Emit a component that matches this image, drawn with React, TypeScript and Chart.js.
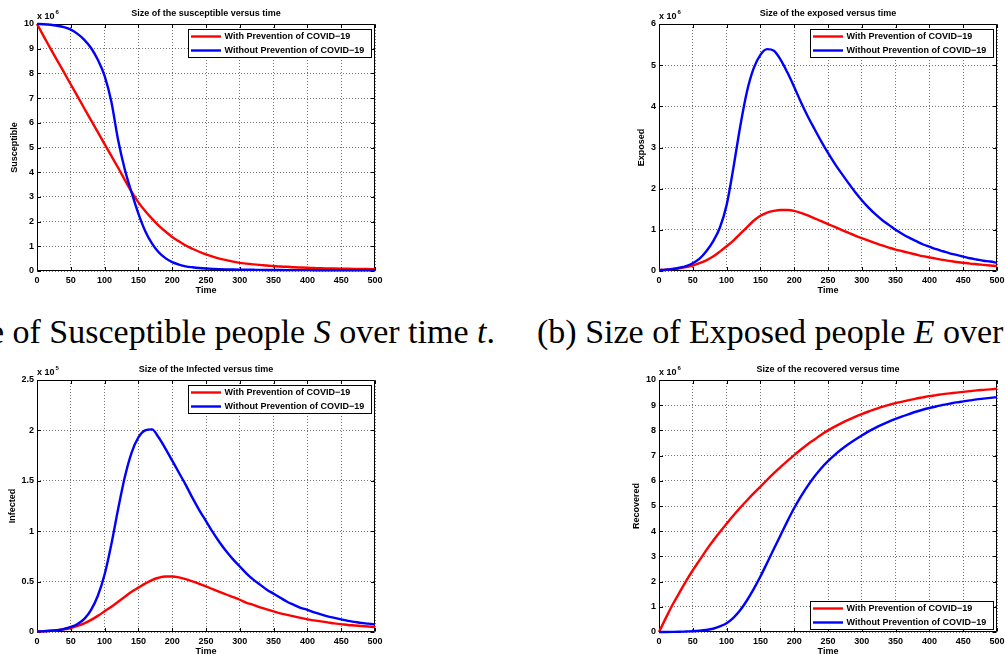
import React, { useEffect, useRef } from 'react';
import { Chart, registerables } from 'chart.js';

Chart.register(...registerables);

const FONT = "'Liberation Sans', Arial, Helvetica, sans-serif";
const SERIF = "'Liberation Serif', 'Times New Roman', serif";

// ---- data (time in days, values in units of the axis multiplier) ----
const TIME = [0, 10, 20, 30, 40, 50, 60, 70, 80, 90, 100, 110, 120, 130, 140, 150, 160, 170, 180, 190, 200,
  210, 220, 230, 240, 250, 260, 270, 280, 290, 300, 310, 320, 330, 340, 350, 360, 370, 380, 390, 400,
  410, 420, 430, 440, 450, 460, 470, 480, 490, 500];

const SERIES_LABELS = ['With Prevention of COVID\u221219', 'Without Prevention of COVID\u221219'];
const SERIES_COLORS = ['#ff0000', '#0000ff'];

// Susceptible (x 10^6)
const S_WITH = [10, 9.5, 9.0, 8.52, 8.04, 7.55, 7.07, 6.58, 6.1, 5.62, 5.14, 4.66, 4.18, 3.68, 3.2, 2.78, 2.43, 2.12, 1.84, 1.6,
  1.38, 1.2, 1.03, 0.9, 0.78, 0.67, 0.58, 0.5, 0.44, 0.38, 0.33, 0.3, 0.27, 0.25, 0.22, 0.2, 0.18, 0.17, 0.15, 0.14,
  0.13, 0.12, 0.11, 0.105, 0.1, 0.095, 0.09, 0.085, 0.08, 0.078, 0.075];
const S_WITHOUT = [10, 9.99, 9.97, 9.93, 9.87, 9.77, 9.6, 9.36, 9.03, 8.55, 7.9, 6.85, 5.3, 4.1, 3.17, 2.32, 1.62, 1.12, 0.76, 0.52,
  0.36, 0.26, 0.19, 0.15, 0.12, 0.1, 0.085, 0.075, 0.067, 0.06, 0.055, 0.051, 0.048, 0.045, 0.043, 0.041, 0.039, 0.037, 0.036, 0.035,
  0.034, 0.033, 0.032, 0.031, 0.03, 0.03, 0.029, 0.029, 0.028, 0.028, 0.027];

// Exposed (x 10^6)
const E_WITH = [0.02, 0.03, 0.045, 0.065, 0.095, 0.13, 0.19, 0.26, 0.35, 0.47, 0.6, 0.74, 0.9, 1.06, 1.22, 1.34, 1.42, 1.46, 1.48, 1.48,
  1.46, 1.41, 1.35, 1.28, 1.21, 1.14, 1.07, 1.0, 0.93, 0.86, 0.8, 0.74, 0.68, 0.62, 0.57, 0.52, 0.48, 0.44, 0.4, 0.36,
  0.33, 0.3, 0.27, 0.245, 0.22, 0.2, 0.18, 0.165, 0.15, 0.135, 0.12];
const E_WITHOUT = [0.02, 0.03, 0.05, 0.08, 0.12, 0.19, 0.3, 0.48, 0.72, 1.05, 1.6, 2.5, 3.5, 4.35, 4.92, 5.25, 5.39, 5.35, 5.13, 4.82,
  4.47, 4.1, 3.76, 3.45, 3.15, 2.87, 2.61, 2.37, 2.14, 1.92, 1.72, 1.54, 1.38, 1.24, 1.12, 1.0, 0.9, 0.81, 0.73, 0.65,
  0.59, 0.53, 0.48, 0.43, 0.39, 0.35, 0.31, 0.28, 0.25, 0.23, 0.2];

// Infected (x 10^5)
const I_WITH = [0.005, 0.008, 0.012, 0.018, 0.027, 0.04, 0.06, 0.085, 0.12, 0.16, 0.205, 0.25, 0.3, 0.35, 0.4, 0.44, 0.48, 0.515, 0.538, 0.55,
  0.55, 0.542, 0.525, 0.503, 0.478, 0.452, 0.425, 0.398, 0.372, 0.346, 0.32, 0.29, 0.27, 0.245, 0.225, 0.205, 0.185, 0.17, 0.155, 0.14,
  0.125, 0.115, 0.105, 0.095, 0.085, 0.078, 0.07, 0.065, 0.06, 0.055, 0.05];
const I_WITHOUT = [0.005, 0.008, 0.012, 0.018, 0.03, 0.05, 0.08, 0.13, 0.22, 0.36, 0.57, 0.87, 1.22, 1.54, 1.78, 1.93, 2.0, 2.01, 1.93, 1.82,
  1.7, 1.58, 1.46, 1.33, 1.21, 1.1, 0.99, 0.89, 0.8, 0.72, 0.65, 0.58, 0.52, 0.47, 0.42, 0.38, 0.34, 0.3, 0.27, 0.24,
  0.22, 0.195, 0.175, 0.155, 0.14, 0.125, 0.11, 0.1, 0.09, 0.083, 0.075];

// Recovered (x 10^6)
const R_WITH = [0, 0.55, 1.08, 1.55, 2.02, 2.45, 2.85, 3.25, 3.62, 3.97, 4.3, 4.62, 4.93, 5.22, 5.5, 5.77, 6.04, 6.3, 6.55, 6.79,
  7.02, 7.24, 7.45, 7.64, 7.83, 8.0, 8.15, 8.29, 8.42, 8.54, 8.65, 8.75, 8.84, 8.93, 9.01, 9.08, 9.14, 9.2, 9.26, 9.31,
  9.36, 9.4, 9.44, 9.47, 9.5, 9.53, 9.56, 9.59, 9.61, 9.63, 9.65];
const R_WITHOUT = [0, 0.002, 0.005, 0.01, 0.02, 0.03, 0.05, 0.08, 0.13, 0.22, 0.35, 0.56, 0.86, 1.25, 1.7, 2.2, 2.75, 3.3, 3.85, 4.4,
  4.92, 5.38, 5.8, 6.17, 6.5, 6.78, 7.03, 7.25, 7.45, 7.63, 7.8, 7.96, 8.1, 8.23, 8.35, 8.46, 8.56, 8.65, 8.74, 8.82,
  8.89, 8.95, 9.01, 9.06, 9.11, 9.15, 9.19, 9.23, 9.26, 9.29, 9.32];

// ---- panel layout ----
type PanelCfg = {
  id: string;
  cx: number; cy: number;
  plot: { l: number; t: number; r: number; b: number };
  yMax: number; yStep: number;
  exponent: string;
  title: string;
  yLabel: string;
  yLabelX: number;
  legendAt: 'top' | 'bottom';
  series: number[][];
};

const PANELS: PanelCfg[] = [
  { id: 'S', cx: 0, cy: 0, plot: { l: 37, t: 24, r: 375, b: 271 }, yMax: 10, yStep: 1, exponent: '6',
    title: 'Size of the susceptible versus time', yLabel: 'Susceptible', yLabelX: 15, legendAt: 'top', series: [S_WITH, S_WITHOUT] },
  { id: 'E', cx: 620, cy: 0, plot: { l: 659, t: 24, r: 997, b: 271 }, yMax: 6, yStep: 1, exponent: '6',
    title: 'Size of the exposed versus time', yLabel: 'Exposed', yLabelX: 641.7, legendAt: 'top', series: [E_WITH, E_WITHOUT] },
  { id: 'I', cx: 0, cy: 355, plot: { l: 37, t: 380, r: 375, b: 632 }, yMax: 2.5, yStep: 0.5, exponent: '5',
    title: 'Size of the Infected versus time', yLabel: 'Infected', yLabelX: 12.7, legendAt: 'top', series: [I_WITH, I_WITHOUT] },
  { id: 'R', cx: 620, cy: 355, plot: { l: 659, t: 380, r: 997, b: 632 }, yMax: 10, yStep: 1, exponent: '6',
    title: 'Size of the recovered versus time', yLabel: 'Recovered', yLabelX: 636.7, legendAt: 'bottom', series: [R_WITH, R_WITHOUT] },
];

const X_AXIS_H = 29;

const matlabPlugin = {
  id: 'matlabAxes',
  beforeDatasetsDraw(chart: any) {
    const { ctx, chartArea: a, scales } = chart;
    const L = Math.round(a.left) + 0.5;
    const R = Math.round(a.right) - 0.5;
    const T = Math.round(a.top) + 0.5;
    const B = Math.round(a.bottom) - 0.5;
    ctx.save();
    ctx.setLineDash([]);
    ctx.strokeStyle = '#000';
    ctx.lineWidth = 1;
    ctx.beginPath();
    ctx.rect(L, T, R - L, B - T);
    const tl = 3.5;
    scales.x.ticks.forEach((t: any) => {
      const px = Math.round(scales.x.getPixelForValue(t.value)) + 0.5;
      ctx.moveTo(px, B); ctx.lineTo(px, B - tl);
      ctx.moveTo(px, T); ctx.lineTo(px, T + tl);
    });
    scales.y.ticks.forEach((t: any) => {
      const py = Math.round(scales.y.getPixelForValue(t.value)) + 0.5;
      ctx.moveTo(L, py); ctx.lineTo(L + tl, py);
      ctx.moveTo(R, py); ctx.lineTo(R - tl, py);
    });
    ctx.stroke();
    ctx.restore();
  },
  afterDraw(chart: any, _args: any, opts: any) {
    const { ctx, chartArea: a } = chart;
    ctx.save();
    ctx.fillStyle = '#000';
    // title
    ctx.font = `bold 9px ${FONT}`;
    ctx.textAlign = 'center';
    ctx.textBaseline = 'middle';
    ctx.fillText(opts.title, (a.left + a.right) / 2, a.top - 10.5);
    // exponent
    ctx.textAlign = 'left';
    ctx.textBaseline = 'alphabetic';
    ctx.fillText('x 10', a.left, a.top - 4.7);
    const w = ctx.measureText('x 10').width;
    ctx.font = `bold 6px ${FONT}`;
    ctx.fillText(opts.exponent, a.left + w + 1, a.top - 10);
    // legend
    ctx.font = `bold 9px ${FONT}`;
    const labels: string[] = chart.data.datasets.map((d: any) => d.label);
    const tw = Math.max(...labels.map((l) => ctx.measureText(l).width));
    const bw = Math.round(36 + tw + 7);
    const bh = 28;
    const bx = Math.round(a.right - 4.5 - bw) + 0.5;
    const by = opts.legendAt === 'bottom' ? Math.round(a.bottom - 3 - bh) + 0.5 : Math.round(a.top + 4.5) + 0.5;
    ctx.fillStyle = '#fff';
    ctx.fillRect(bx, by, bw, bh);
    ctx.strokeStyle = '#000';
    ctx.lineWidth = 1;
    ctx.strokeRect(bx, by, bw, bh);
    chart.data.datasets.forEach((d: any, i: number) => {
      const y = by + 7 + i * 14;
      ctx.strokeStyle = d.borderColor;
      ctx.lineWidth = 2.4;
      ctx.beginPath();
      ctx.moveTo(bx + 2.5, y);
      ctx.lineTo(bx + 32.5, y);
      ctx.stroke();
      ctx.fillStyle = '#000';
      ctx.textBaseline = 'middle';
      ctx.fillText(d.label, bx + 36, y + 0.5);
    });
    ctx.restore();
  },
};

function Panel({ cfg }: { cfg: PanelCfg }) {
  const ref = useRef<HTMLCanvasElement | null>(null);
  const width = cfg.plot.r + 12 - cfg.cx;
  const height = cfg.plot.b + X_AXIS_H - cfg.cy;
  useEffect(() => {
    if (!ref.current) return;
    const yAxisW = cfg.plot.l - cfg.cx;
    const tickFont = { family: FONT, size: 9, weight: 'bold' as const };
    const chart = new Chart(ref.current, {
      type: 'line',
      data: {
        datasets: cfg.series.map((vals, i) => ({
          label: SERIES_LABELS[i],
          data: TIME.map((t, k) => ({ x: t, y: vals[k] })),
          borderColor: SERIES_COLORS[i],
          backgroundColor: SERIES_COLORS[i],
          borderWidth: 2.4,
          pointRadius: 0,
          cubicInterpolationMode: 'monotone' as const,
          clip: false as any,
          order: i === 1 ? 0 : 1,
        })),
      },
      options: {
        responsive: false,
        animation: false,
        devicePixelRatio: 1,
        layout: {
          padding: {
            left: 0,
            bottom: 0,
            top: cfg.plot.t - cfg.cy,
            right: cfg.cx + width - cfg.plot.r,
          },
        },
        plugins: {
          legend: { display: false },
          tooltip: { enabled: false },
          matlabAxes: { title: cfg.title, exponent: cfg.exponent, legendAt: cfg.legendAt },
        } as any,
        scales: {
          x: {
            type: 'linear',
            min: 0,
            max: 500,
            afterFit: (s: any) => { s.height = X_AXIS_H; },
            ticks: { stepSize: 50, color: '#000', font: tickFont, padding: 4, maxRotation: 0, autoSkip: false },
            grid: { color: 'rgba(0,0,0,0.55)', lineWidth: 1, drawTicks: false },
            border: { display: false, dash: [1, 2] },
            title: {
              display: true, text: 'Time', color: '#000',
              font: { family: FONT, size: 9, weight: 'bold', lineHeight: 1.2 },
              padding: { top: 0, bottom: 3.9 },
            },
          },
          y: {
            type: 'linear',
            min: 0,
            max: cfg.yMax,
            afterFit: (s: any) => { s.width = yAxisW; },
            ticks: {
              stepSize: cfg.yStep, color: '#000', font: tickFont, padding: 3,
              callback: (v: any) => String(v),
            },
            grid: { color: 'rgba(0,0,0,0.55)', lineWidth: 1, drawTicks: false },
            border: { display: false, dash: [1, 2] },
            title: {
              display: true, text: cfg.yLabel, color: '#000',
              font: { family: FONT, size: 9, weight: 'bold', lineHeight: 1.2 },
              padding: { top: cfg.yLabelX - cfg.cx - 5.4, bottom: 0 },
            },
          },
        },
      },
      plugins: [matlabPlugin as any],
    });
    return () => chart.destroy();
  }, [cfg]);
  return (
    <canvas
      ref={ref}
      width={width}
      height={height}
      style={{ position: 'absolute', left: cfg.cx, top: cfg.cy, width, height }}
    />
  );
}

export default function App() {
  const captionStyle: React.CSSProperties = {
    position: 'absolute',
    top: 315,
    font: `34px ${SERIF}`,
    lineHeight: '34px',
    whiteSpace: 'nowrap',
    color: '#000',
  };
  return (
    <div style={{ position: 'absolute', left: 0, top: 0, width: 1005, height: 654, overflow: 'hidden', background: '#fff' }}>
      {PANELS.map((p) => <Panel key={p.id} cfg={p} />)}
      <div style={{ ...captionStyle, right: 1005 - 495 }}>
        (a) Size of Susceptible people <i>S</i> over time <i>t</i>.
      </div>
      <div style={{ ...captionStyle, left: 537 }}>
        (b) Size of Exposed people <i>E</i> over time <i>t</i>.
      </div>
    </div>
  );
}
